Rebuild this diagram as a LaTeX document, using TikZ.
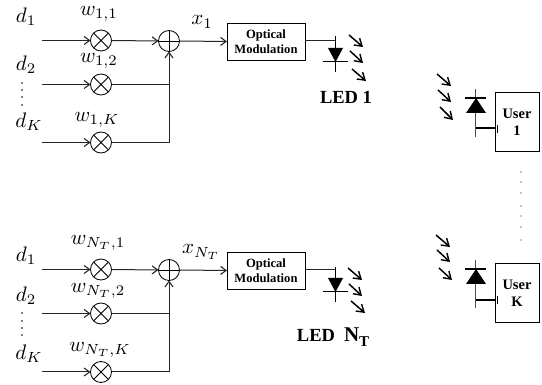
\documentclass[tikz,border=0pt]{standalone}
\usepackage{fontspec}
\newfontfamily\tnr{Liberation Serif}
\usetikzlibrary{arrows.meta,calc}
\tikzset{
  x=1pt,y=-1pt,
  every node/.style={inner sep=0pt,outer sep=0pt},
  wire/.style={line width=1pt,draw=black!85},
  arrowwire/.style={wire,-{Straight Barb[length=5.5pt,width=8pt,line width=1.1pt]}},
  mult/.style={circle,draw,line width=0.85pt,minimum size=21pt,
    path picture={\draw[line width=0.85pt] (path picture bounding box.center) +(-7.4,-7.4) -- +(7.4,7.4)
      (path picture bounding box.center) +(-7.4,7.4) -- +(7.4,-7.4);}},
  adder/.style={circle,draw,line width=0.85pt,minimum size=21pt,
    path picture={\draw[line width=0.85pt] (path picture bounding box.center) +(-11,0) -- +(11,0)
      (path picture bounding box.center) +(0,-11) -- +(0,11);}},
  modbox/.style={draw,line width=0.9pt,minimum width=78pt,minimum height=37pt,align=center,
    font=\tnr\bfseries\fontsize{12.6}{15}\selectfont},
  userbox/.style={draw,line width=1pt,minimum width=44pt,minimum height=59pt,align=center,
    font=\tnr\bfseries\fontsize{14.5}{17}\selectfont},
  bigbold/.style={font=\tnr\bfseries\fontsize{18.5}{20}\selectfont},
  lab/.style={scale=2.1},
  ray/.style={line width=1.5pt,-{Straight Barb[length=7pt,width=9pt,line width=1.4pt]}},
  diode/.style={line width=0.9pt},
  bar/.style={line width=1.4pt},
  dot/.style={circle,fill=black,minimum size=1.6pt},
}
\begin{document}
\begin{tikzpicture}
\useasboundingbox (0,0) rectangle (542,385);
% ---- top chain
\node[lab] (d11) at (26,17) {$d_1$};
\node[lab] (d12) at (26,65) {$d_2$};
\node[lab] (d1k) at (29,122) {$d_K$};
\node[dot] (a1) at (22,83) {}; \node[dot] (a2) at (22,90) {}; \node[dot] (a3) at (22,97) {}; \node[dot] (a4) at (22,105) {};
\coordinate (i11) at (42,40.5); \coordinate (i12) at (42,84.5); \coordinate (i13) at (42,142.5);
\node[mult] (m11) at (101,40.5) {};
\node[mult] (m12) at (101,84.5) {};
\node[mult] (m13) at (101,142.5) {};
\node[adder] (s1) at (169,41) {};
\node[lab] (w11) at (99,14) {$w_{1,1}$};
\node[lab] (w12) at (99,61) {$w_{1,2}$};
\node[lab] (w13) at (97,120) {$w_{1,K}$};
\node[lab] (x1) at (202,22) {$x_1$};
\node[modbox] (b1) at (266,41.5) {Optical\\Modulation};
\draw[arrowwire] (i11) -- (m11);
\draw[arrowwire] (i12) -- (m12);
\draw[arrowwire] (i13) -- (m13);
\draw[arrowwire] (m11) -- (s1);
\draw[arrowwire] (s1.east) -- (b1.west);
\draw[wire] (m12) -- (m12 -| s1.south);
\draw[arrowwire] (m13) -| (s1.south);
% LED 1
\coordinate (l1t) at (335.5,36); \coordinate (l1b) at (335.5,72); \coordinate (l1j) at (335.5,41);
\draw[wire] (b1.east |- l1j) -- (l1j);
\draw[diode] (l1t) -- (l1b);
\fill (328,48) -- (343,48) -- (335.5,62) -- cycle;
\draw[bar] (323,61.3) -- (348,61.3);
\draw[ray] (349,35) -- (363,47);
\draw[ray] (350,51) -- (363,63);
\draw[ray] (352,69) -- (366,81);
\node[bigbold] (led1) at (346,97) {LED 1};
% ---- bottom chain
\node[lab] (d21) at (26,256) {$d_1$};
\node[lab] (d22) at (26,296) {$d_2$};
\node[lab] (d2k) at (29,354) {$d_K$};
\node[dot] (b1d) at (22,313) {}; \node[dot] (b2d) at (22,321) {}; \node[dot] (b3d) at (22,328) {}; \node[dot] (b4d) at (22,335) {};
\coordinate (i21) at (42,269.5); \coordinate (i22) at (42,313.5); \coordinate (i23) at (42,372);
\node[mult] (m21) at (101,269.5) {};
\node[mult] (m22) at (101,313.5) {};
\node[mult] (m23) at (101,372) {};
\node[adder] (s2) at (169,270) {};
\node[lab] (w21) at (98,243) {$w_{N_T,1}$};
\node[lab] (w22) at (98,291) {$w_{N_T,2}$};
\node[lab] (w23) at (100,350) {$w_{N_T,K}$};
\node[lab] (x2) at (201,252) {$x_{N_T}$};
\node[modbox] (b2) at (266,270.5) {Optical\\Modulation};
\draw[arrowwire] (i21) -- (m21);
\draw[arrowwire] (i22) -- (m22);
\draw[arrowwire] (i23) -- (m23);
\draw[arrowwire] (m21) -- (s2);
\draw[arrowwire] (s2.east) -- (b2.west);
\draw[wire] (m22) -- (m22 -| s2.south);
\draw[arrowwire] (m23) -| (s2.south);
% LED NT
\coordinate (l2t) at (335.5,267); \coordinate (l2b) at (335.5,302); \coordinate (l2j) at (335.5,269.5);
\draw[wire] (b2.east |- l2j) -- (l2j);
\draw[diode] (l2t) -- (l2b);
\fill (328,278) -- (343,278) -- (335.5,292) -- cycle;
\draw[bar] (323,291.8) -- (348,291.8);
\draw[ray] (348,268) -- (362,280);
\draw[ray] (349,284) -- (362,296);
\draw[ray] (351,301) -- (365,313);
\node[bigbold] (led2) at (316,335) {LED};
\node[font=\tnr\bfseries\fontsize{21}{22}\selectfont,anchor=base west] (nt) at (344,342) {N\raisebox{-0.2em}{\fontsize{15}{16}\selectfont T}};
% ---- User 1
\node[userbox] (u1) at (517,122.5) {User\\1};
\coordinate (p1t) at (475.5,89); \coordinate (p1b) at (475.5,137); \coordinate (p1j) at (475.5,128);
\draw[diode,draw=black!70] (p1t) -- (p1b);
\fill (466,113) -- (486,113) -- (476,98) -- cycle;
\draw[bar] (465,98) -- (486,98);
\draw[line width=1.7pt] (p1j) -- (497,128 -| u1.west);
\draw[line width=0.9pt] (497,125) -- (497,133);
\draw[ray] (437,74) -- (451,86);
\draw[ray] (438,90) -- (451,102);
\draw[ray] (440,107) -- (453,120);
% ---- User K
\node[userbox] (u2) at (517,293.5) {User\\K};
\coordinate (p2t) at (475.5,260); \coordinate (p2b) at (475.5,308); \coordinate (p2j) at (475.5,300);
\draw[diode,draw=black!70] (p2t) -- (p2b);
\fill (466,284) -- (486,284) -- (476,269) -- cycle;
\draw[bar] (465,269) -- (486,269);
\draw[line width=1.4pt] (p2j) -- (497,300 -| u2.west);
\draw[line width=0.9pt] (497,296) -- (497,304);
\draw[ray] (436,235) -- (450,247);
\draw[ray] (437,250) -- (450,262);
\draw[ray] (439,268) -- (452,280);
% ---- vertical dots
\foreach \yy [count=\i] in {172,182,193,206,216,227,240} \node[dot,minimum size=1.3pt] (v\i) at (521,\yy) {};
\end{tikzpicture}
\end{document}
